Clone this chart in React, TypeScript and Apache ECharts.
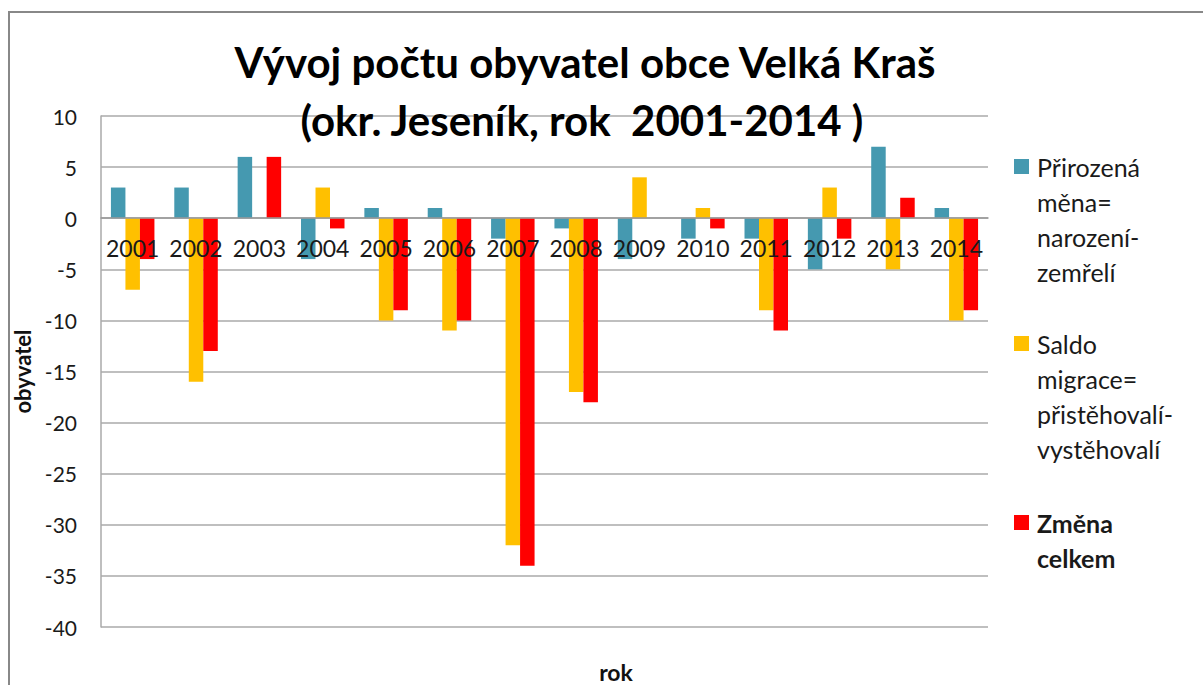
import React, { useEffect, useRef } from "react";
import * as echarts from "echarts";

const years = ["2001","2002","2003","2004","2005","2006","2007","2008","2009","2010","2011","2012","2013","2014"];
const prirozena = [3, 3, 6, -4, 1, 1, -2, -1, -4, -2, -2, -5, 7, 1];
const saldo = [-7, -16, 0, 3, -10, -11, -32, -17, 4, 1, -9, 3, -5, -10];
const zmena = [-4, -13, 6, -1, -9, -10, -34, -18, 0, -1, -11, -2, 2, -9];

const seriesNames = [
  "Přirozená měna= narození- zemřelí",
  "Saldo migrace= přistěhovalí- vystěhovalí",
  "Změna celkem",
];
const legendLines = [
  ["Přirozená", "měna=", "narození-", "zemřelí"],
  ["Saldo", "migrace=", "přistěhovalí-", "vystěhovalí"],
  ["Změna", "celkem"],
];
const colors = ["#4599B0", "#FFC000", "#FF0000"];
const titleLines = ["Vývoj počtu obyvatel obce Velká Kraš", "(okr. Jeseník, rok  2001-2014 )"];
const yMin = -40;
const yMax = 10;

const FONT = "Lato, 'Open Sans', sans-serif";

export default function App() {
  const ref = useRef<HTMLDivElement>(null);
  useEffect(() => {
    document.body.style.margin = "0";
    const chart = echarts.init(ref.current!, null, { renderer: "svg" });
    const gridTop = 116;
    const gridBottom = 58;
    const plotH = 685 - gridTop - gridBottom;
    const zeroOffset = -((0 - yMin) / (yMax - yMin)) * plotH;
    const legendTops = [159, 336, 515];
    const legendGraphics: any[] = [];
    legendLines.forEach((lines, i) => {
      legendGraphics.push({
        type: "rect",
        shape: { x: 1014, y: legendTops[i], width: 15, height: 15 },
        style: { fill: colors[i] },
      });
      lines.forEach((ln, j) => {
        legendGraphics.push({
          type: "text",
          x: 1037,
          y: legendTops[i] + 8 + j * 35,
          style: {
            text: ln,
            font: `${i === 2 ? "bold " : ""}25px ${FONT}`,
            fill: "#1a1a1a",
            textVerticalAlign: "middle",
            textAlign: "left",
          },
        });
      });
    });
    const option: any = {
      animation: false,
      backgroundColor: "#ffffff",
      grid: { left: 101, top: gridTop, right: 215, bottom: gridBottom, containLabel: false },
      xAxis: {
        type: "category",
        data: years,
        z: 10,
        offset: zeroOffset,
        axisLine: { onZero: false, lineStyle: { color: "#999999", width: 1.5 } },
        axisTick: { show: false },
        axisLabel: { interval: 0, hideOverlap: false, color: "#1a1a1a", fontSize: 23, fontFamily: FONT, margin: 18 },
      },
      yAxis: {
        type: "value",
        min: yMin,
        max: yMax,
        interval: 5,
        name: "obyvatel",
        nameLocation: "middle",
        nameRotate: 90,
        nameGap: 64,
        nameTextStyle: { fontSize: 22, fontWeight: "bold", fontFamily: FONT, color: "#111" },
        axisLine: { show: true, lineStyle: { color: "#aaaaaa", width: 1.5 } },
        axisTick: { show: false },
        axisLabel: { color: "#1a1a1a", fontSize: 21, fontFamily: FONT, margin: 24 },
        splitLine: { lineStyle: { color: "#aaaaaa", width: 1.5 } },
      },
      series: [
        { name: seriesNames[0], type: "bar", data: prirozena, barWidth: 14.5, barGap: "0%", itemStyle: { color: colors[0] } },
        { name: seriesNames[1], type: "bar", data: saldo, barWidth: 14.5, barGap: "0%", itemStyle: { color: colors[1] } },
        { name: seriesNames[2], type: "bar", data: zmena, barWidth: 14.5, barGap: "0%", itemStyle: { color: colors[2] } },
      ],
      graphic: [
        {
          type: "rect",
          silent: true,
          z: -10,
          shape: { x: 9, y: 12, width: 1400, height: 900 },
          style: { fill: "none", stroke: "#888888", lineWidth: 2 },
        },
        {
          type: "text",
          x: 585,
          y: 62,
          z: 20,
          style: { text: titleLines[0], font: `bold 42px ${FONT}`, fill: "#000", textAlign: "center", textVerticalAlign: "middle" },
        },
        {
          type: "text",
          x: 582,
          y: 120,
          z: 20,
          style: { text: titleLines[1], font: `bold 42px ${FONT}`, fill: "#000", textAlign: "center", textVerticalAlign: "middle" },
        },
        {
          type: "text",
          x: 616,
          y: 672,
          style: { text: "rok", font: `bold 23px ${FONT}`, fill: "#111", textAlign: "center", textVerticalAlign: "middle" },
        },
        ...legendGraphics,
      ],
    };
    chart.setOption(option);
    return () => chart.dispose();
  }, []);
  return <div ref={ref} style={{ width: 1203, height: 685 }} />;
}
